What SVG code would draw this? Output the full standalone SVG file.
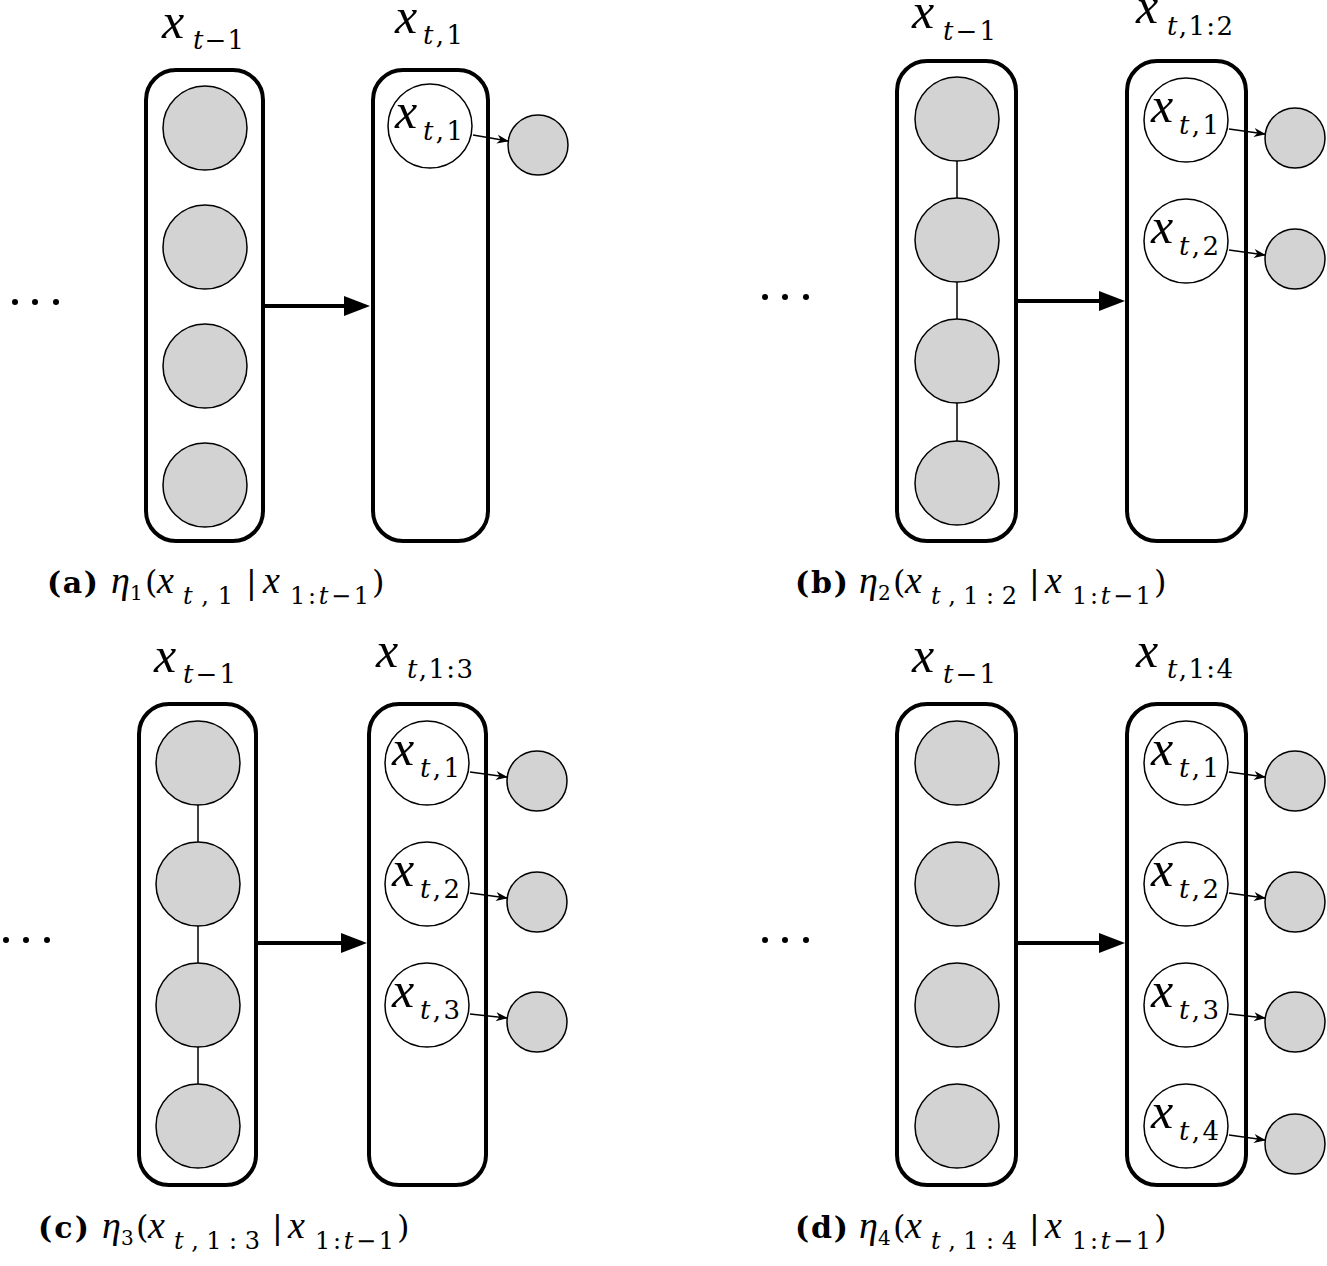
<svg xmlns="http://www.w3.org/2000/svg" width="1327" height="1266" viewBox="0 0 1327 1266">
<style>
.box{fill:none;stroke:#000;stroke-width:4}
.g{fill:#d3d3d3;stroke:#000;stroke-width:1.5}
.w{fill:#fff;stroke:#000;stroke-width:1.5}
.vl{stroke:#000;stroke-width:1.5}
.sa{stroke:#000;stroke-width:1.5;fill:none;marker-end:url(#sm)}
.ma{stroke:#000;stroke-width:4;marker-end:url(#big)}
text{font-family:"DejaVu Serif",serif;fill:#000}
.mx{font-family:"Liberation Serif",serif;font-size:50px;font-style:italic}
.sb{font-size:26px}
.cm{font-size:32px}
.ci{font-family:"Liberation Serif",serif;font-size:38px;font-style:italic}
.cb{font-size:30px;font-weight:bold}
.cs{font-size:24px}
.cd{font-size:20px}
.i{font-style:italic}
</style>
<defs>
<marker id="big" markerUnits="userSpaceOnUse" markerWidth="27" markerHeight="20" refX="0" refY="10" orient="auto" overflow="visible"><path d="M0,0 L26,10 L0,20 z" fill="#000"/></marker>
<marker id="sm" markerUnits="userSpaceOnUse" markerWidth="14" markerHeight="10" refX="11" refY="4.5" orient="auto" overflow="visible"><path d="M0,0 L12,4.5 L0,9 L3.5,4.5 z" fill="#000"/></marker>
</defs>

<!-- Panel a -->
<g id="a-prev"><rect class="box" x="146" y="70" width="117" height="471" rx="30"/>
<circle class="g" cx="205" cy="128" r="42"/><circle class="g" cx="205" cy="247" r="42"/><circle class="g" cx="205" cy="366" r="42"/><circle class="g" cx="205" cy="485" r="42"/>
<text class="mx" x="162" y="38">x</text><text class="sb" x="193" y="49" textLength="51"><tspan class="i">t</tspan>−1</text></g>
<g id="a-cur"><rect class="box" x="373" y="70" width="115" height="471" rx="30"/>
<text class="mx" x="395" y="33">x</text><text class="sb" x="423" y="44" textLength="40"><tspan class="i">t</tspan>,1</text></g>
<g id="a-n1"><circle class="w" cx="430" cy="126" r="42"/><text class="mx" x="395" y="128">x</text><text class="sb" x="423" y="140" textLength="40"><tspan class="i">t</tspan>,1</text></g>
<g id="a-o1"><circle class="g" cx="538" cy="145" r="30"/></g>
<g id="a-dots"><circle cx="15" cy="302" r="3"/><circle cx="35" cy="302" r="3"/><circle cx="56" cy="302" r="3"/></g>
<g id="a-cap"><text class="cb" x="47" y="593" textLength="51">(a)</text><text class="ci" x="111" y="593">η</text><text class="cd" x="130" y="600">1</text><text class="cm" x="145" y="593">(</text><text class="ci" x="157" y="593">x</text><text class="cs" x="183" y="604" textLength="50"><tspan class="i">t</tspan>,1</text><text class="cm" x="246" y="593">|</text><text class="ci" x="263" y="593">x</text><text class="cs" x="290" y="604" textLength="79">1:<tspan class="i">t</tspan>−1</text><text class="cm" x="372" y="593">)</text></g>

<!-- Panel b -->
<g id="b-prev"><rect class="box" x="897" y="61" width="119" height="480" rx="30"/>
<circle class="g" cx="957" cy="119" r="42"/><circle class="g" cx="957" cy="240" r="42"/><circle class="g" cx="957" cy="361" r="42"/><circle class="g" cx="957" cy="483" r="42"/>
<text class="mx" x="912" y="28">x</text><text class="sb" x="943" y="40" textLength="53"><tspan class="i">t</tspan>−1</text></g>
<g id="b-cur"><rect class="box" x="1127" y="61" width="119" height="480" rx="30"/>
<text class="mx" x="1136" y="23">x</text><text class="sb" x="1167" y="35" textLength="66"><tspan class="i">t</tspan>,1:2</text></g>
<g id="b-n1"><circle class="w" cx="1186" cy="120" r="42"/><text class="mx" x="1151" y="122">x</text><text class="sb" x="1179" y="134" textLength="40"><tspan class="i">t</tspan>,1</text></g>
<g id="b-n2"><circle class="w" cx="1186" cy="241" r="42"/><text class="mx" x="1151" y="243">x</text><text class="sb" x="1179" y="255" textLength="40"><tspan class="i">t</tspan>,2</text></g>
<g id="b-o1"><circle class="g" cx="1295" cy="138" r="30"/></g>
<g id="b-o2"><circle class="g" cx="1295" cy="259" r="30"/></g>
<g id="b-dots"><circle cx="765" cy="297" r="3"/><circle cx="785" cy="297" r="3"/><circle cx="806" cy="297" r="3"/></g>
<g id="b-cap"><text class="cb" x="795" y="593" textLength="53">(b)</text><text class="ci" x="859" y="593">η</text><text class="cd" x="878" y="600">2</text><text class="cm" x="893" y="593">(</text><text class="ci" x="905" y="593">x</text><text class="cs" x="931" y="604" textLength="86"><tspan class="i">t</tspan>,1:2</text><text class="cm" x="1029" y="593">|</text><text class="ci" x="1045" y="593">x</text><text class="cs" x="1072" y="604" textLength="79">1:<tspan class="i">t</tspan>−1</text><text class="cm" x="1154" y="593">)</text></g>

<!-- Panel c -->
<g id="c-prev"><rect class="box" x="139" y="704" width="117" height="481" rx="30"/>
<circle class="g" cx="198" cy="763" r="42"/><circle class="g" cx="198" cy="884" r="42"/><circle class="g" cx="198" cy="1005" r="42"/><circle class="g" cx="198" cy="1126" r="42"/>
<text class="mx" x="154" y="672">x</text><text class="sb" x="183" y="683" textLength="53"><tspan class="i">t</tspan>−1</text></g>
<g id="c-cur"><rect class="box" x="369" y="704" width="117" height="481" rx="30"/>
<text class="mx" x="376" y="667">x</text><text class="sb" x="407" y="678" textLength="66"><tspan class="i">t</tspan>,1:3</text></g>
<g id="c-n1"><circle class="w" cx="427" cy="763" r="42"/><text class="mx" x="392" y="765">x</text><text class="sb" x="420" y="777" textLength="40"><tspan class="i">t</tspan>,1</text></g>
<g id="c-n2"><circle class="w" cx="427" cy="884" r="42"/><text class="mx" x="392" y="886">x</text><text class="sb" x="420" y="898" textLength="40"><tspan class="i">t</tspan>,2</text></g>
<g id="c-n3"><circle class="w" cx="427" cy="1005" r="42"/><text class="mx" x="392" y="1007">x</text><text class="sb" x="420" y="1019" textLength="40"><tspan class="i">t</tspan>,3</text></g>
<g id="c-o1"><circle class="g" cx="537" cy="781" r="30"/></g>
<g id="c-o2"><circle class="g" cx="537" cy="902" r="30"/></g>
<g id="c-o3"><circle class="g" cx="537" cy="1022" r="30"/></g>
<g id="c-dots"><circle cx="6" cy="940" r="3"/><circle cx="26" cy="940" r="3"/><circle cx="47" cy="940" r="3"/></g>
<g id="c-cap"><text class="cb" x="38" y="1238" textLength="51">(c)</text><text class="ci" x="102" y="1238">η</text><text class="cd" x="121" y="1245">3</text><text class="cm" x="136" y="1238">(</text><text class="ci" x="148" y="1238">x</text><text class="cs" x="174" y="1249" textLength="86"><tspan class="i">t</tspan>,1:3</text><text class="cm" x="272" y="1238">|</text><text class="ci" x="288" y="1238">x</text><text class="cs" x="315" y="1249" textLength="79">1:<tspan class="i">t</tspan>−1</text><text class="cm" x="397" y="1238">)</text></g>

<!-- Panel d -->
<g id="d-prev"><rect class="box" x="897" y="704" width="119" height="481" rx="30"/>
<circle class="g" cx="957" cy="763" r="42"/><circle class="g" cx="957" cy="884" r="42"/><circle class="g" cx="957" cy="1005" r="42"/><circle class="g" cx="957" cy="1126" r="42"/>
<text class="mx" x="912" y="672">x</text><text class="sb" x="943" y="683" textLength="53"><tspan class="i">t</tspan>−1</text></g>
<g id="d-cur"><rect class="box" x="1127" y="704" width="119" height="481" rx="30"/>
<text class="mx" x="1136" y="667">x</text><text class="sb" x="1167" y="678" textLength="66"><tspan class="i">t</tspan>,1:4</text></g>
<g id="d-n1"><circle class="w" cx="1186" cy="763" r="42"/><text class="mx" x="1151" y="765">x</text><text class="sb" x="1179" y="777" textLength="40"><tspan class="i">t</tspan>,1</text></g>
<g id="d-n2"><circle class="w" cx="1186" cy="884" r="42"/><text class="mx" x="1151" y="886">x</text><text class="sb" x="1179" y="898" textLength="40"><tspan class="i">t</tspan>,2</text></g>
<g id="d-n3"><circle class="w" cx="1186" cy="1005" r="42"/><text class="mx" x="1151" y="1007">x</text><text class="sb" x="1179" y="1019" textLength="40"><tspan class="i">t</tspan>,3</text></g>
<g id="d-n4"><circle class="w" cx="1186" cy="1126" r="42"/><text class="mx" x="1151" y="1128">x</text><text class="sb" x="1179" y="1140" textLength="40"><tspan class="i">t</tspan>,4</text></g>
<g id="d-o1"><circle class="g" cx="1295" cy="781" r="30"/></g>
<g id="d-o2"><circle class="g" cx="1295" cy="902" r="30"/></g>
<g id="d-o3"><circle class="g" cx="1295" cy="1022" r="30"/></g>
<g id="d-o4"><circle class="g" cx="1295" cy="1144" r="30"/></g>
<g id="d-dots"><circle cx="765" cy="940" r="3"/><circle cx="785" cy="940" r="3"/><circle cx="806" cy="940" r="3"/></g>
<g id="d-cap"><text class="cb" x="795" y="1238" textLength="53">(d)</text><text class="ci" x="859" y="1238">η</text><text class="cd" x="878" y="1245">4</text><text class="cm" x="893" y="1238">(</text><text class="ci" x="905" y="1238">x</text><text class="cs" x="931" y="1249" textLength="86"><tspan class="i">t</tspan>,1:4</text><text class="cm" x="1029" y="1238">|</text><text class="ci" x="1045" y="1238">x</text><text class="cs" x="1072" y="1249" textLength="79">1:<tspan class="i">t</tspan>−1</text><text class="cm" x="1154" y="1238">)</text></g>

<g id="connectors">
<line class="ma" x1="265" y1="306" x2="344" y2="306"/>
<line class="ma" x1="1018" y1="301" x2="1099" y2="301"/>
<line class="ma" x1="258" y1="943" x2="341" y2="943"/>
<line class="ma" x1="1018" y1="943" x2="1099" y2="943"/>
<line class="vl" x1="957" y1="161" x2="957" y2="198"/><line class="vl" x1="957" y1="282" x2="957" y2="319"/><line class="vl" x1="957" y1="403" x2="957" y2="441"/>
<line class="vl" x1="198" y1="805" x2="198" y2="842"/><line class="vl" x1="198" y1="926" x2="198" y2="963"/><line class="vl" x1="198" y1="1047" x2="198" y2="1084"/>
<line class="sa" x1="473" y1="135" x2="508" y2="141"/>
<line class="sa" x1="1229" y1="129" x2="1265" y2="134"/>
<line class="sa" x1="1229" y1="250" x2="1265" y2="255"/>
<line class="sa" x1="470" y1="772" x2="507" y2="777"/>
<line class="sa" x1="470" y1="893" x2="507" y2="898"/>
<line class="sa" x1="470" y1="1014" x2="507" y2="1018"/>
<line class="sa" x1="1229" y1="772" x2="1265" y2="777"/>
<line class="sa" x1="1229" y1="893" x2="1265" y2="898"/>
<line class="sa" x1="1229" y1="1014" x2="1265" y2="1018"/>
<line class="sa" x1="1229" y1="1135" x2="1265" y2="1140"/>
</g>
</svg>
